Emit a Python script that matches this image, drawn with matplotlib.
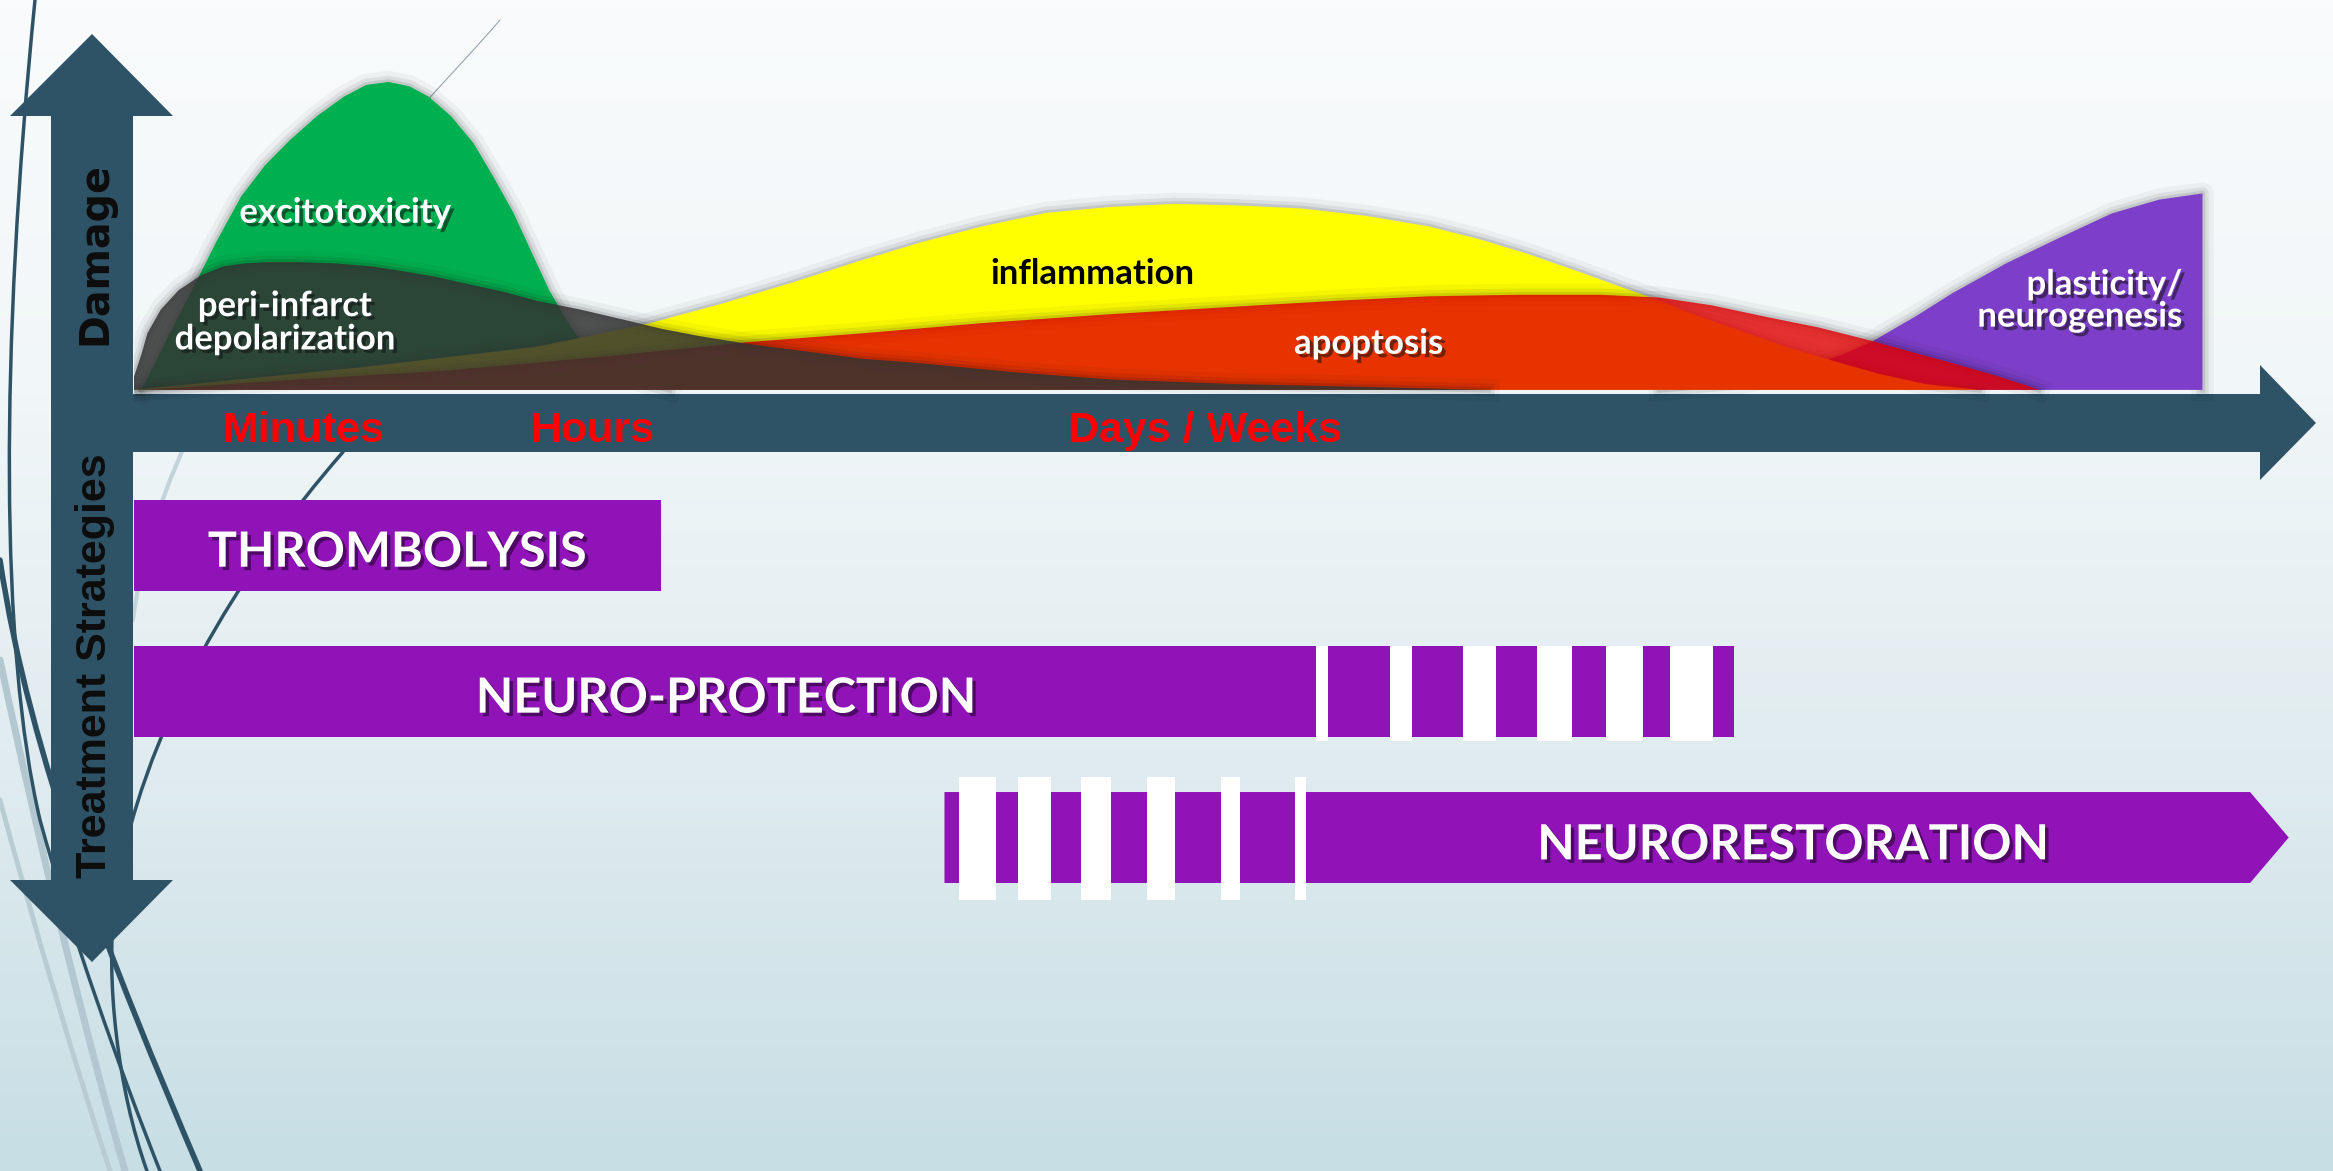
import numpy as np
import matplotlib
matplotlib.use("Agg")
import matplotlib.pyplot as plt
import matplotlib.patheffects as pe
from matplotlib.colors import LinearSegmentedColormap
from matplotlib.path import Path
from matplotlib.patches import PathPatch, Polygon

W, H = 2333, 1171

# time runs 0..100 along the arrow, damage 0..100 (100 = excitotoxicity peak)
exc_t = [0.35, 1.54, 2.73, 3.85, 5.04, 6.16, 7.35, 8.61, 9.87, 10.92, 11.97, 12.96, 13.87,
         14.92, 15.97, 16.88, 17.86, 18.70, 19.54, 20.31, 21.01, 22.06, 23.11, 24.16, 25.21]
exc_d = [0, 16.4, 32.4, 47.8, 62.8, 72.9, 81.2, 88.9, 95.2, 99.0, 100, 98.6, 95.2,
         88.9, 80.2, 69.6, 57.5, 44.9, 32.4, 23.2, 15.9, 9.2, 5.3, 1.9, 0]

peri_t = [0, 0.35, 0.63, 1.26, 2.10, 3.15, 4.20, 5.25, 6.30, 7.70, 9.45, 11.20, 12.61, 14.22,
          15.76, 17.37, 18.91, 21.01, 23.11, 24.86, 26.68, 28.85, 31.51, 34.31, 36.97, 41.32,
          45.94, 51.82, 57.91, 63.73]
peri_d = [4.3, 11.6, 18.4, 26.1, 32.4, 37.2, 40.1, 41.1, 41.5, 41.5, 41.1, 40.1, 38.6, 36.7,
          34.3, 31.9, 29.0, 26.1, 22.7, 19.8, 17.4, 15.0, 12.6, 10.1, 8.7, 5.8,
          3.4, 1.9, 1.0, 0]

infl_t = [0, 4.20, 10.50, 14.71, 18.91, 21.71, 24.30, 27.66, 30.95, 33.96, 36.97, 39.92, 42.93,
          45.94, 48.95, 51.96, 54.97, 57.98, 60.92, 63.38, 65.48, 68.07, 70.03, 71.78, 73.53,
          75.56, 77.73, 79.83, 82.07, 84.31, 86.83]
infl_d = [0, 2.9, 7.2, 10.6, 14.0, 17.9, 21.7, 28.0, 34.8, 41.5, 47.8, 53.1, 57.5,
          59.4, 60.4, 59.9, 58.9, 56.5, 53.1, 48.8, 44.4, 38.2, 33.3, 29.0, 24.2,
          19.3, 14.0, 9.7, 5.3, 1.9, 0]

apop_t = [0.35, 7.70, 14.71, 21.71, 26.68, 28.85, 34.31, 39.92, 45.94, 51.96, 56.72, 60.92,
          65.13, 68.98, 71.78, 74.23, 76.82, 79.27, 81.79, 84.03, 85.57, 87.54, 89.08, 89.64]
apop_d = [0, 3.4, 6.3, 10.6, 14.0, 15.5, 18.4, 21.7, 24.6, 27.1, 29.0, 30.4,
          30.9, 30.9, 30.0, 27.5, 23.7, 20.3, 15.9, 11.6, 8.7, 4.8, 1.4, 0]

plas_t = [71.78, 75.56, 78.29, 80.32, 81.79, 83.82, 85.57, 88.10, 90.55, 93.07, 95.31, 97.34, 97.34]
plas_d = [0, 2.1, 6.4, 11.3, 15.7, 23.8, 31.4, 41.1, 49.2, 57.3, 61.8, 63.8, 0]

time_labels = ["Minutes", "Hours", "Days / Weeks"]
time_pos = [7.98, 21.57, 50.42]

# treatment bars (time units)
thromb_span = (0, 24.79)
neuroprot_span = (0, 75.28)
neuroprot_gaps = [(55.60, 56.20), (59.10, 60.15), (62.54, 64.08), (66.04, 67.65),
                  (69.26, 71.01), (72.27, 74.30)]
neurorest_span = (38.14, 99.58)
neurorest_tip = 101.40
neurorest_gaps = [(38.84, 40.55), (41.60, 43.14), (44.57, 45.98), (47.69, 48.99),
                  (51.16, 52.03), (54.62, 55.16)]

ARROW = "#2e5266"
PURPLE = "#9013b8"

fig = plt.figure(figsize=(W / 100, H / 100), dpi=100)

# ---- background, swooshes and the two axis arrows (pixel space)
bg = fig.add_axes([0, 0, 1, 1])
bg.set_xlim(0, W)
bg.set_ylim(H, 0)
bg.axis("off")
grad = LinearSegmentedColormap.from_list("bg", ["#f9fbfc", "#f1f6f8", "#dfebef", "#c7dee5"])
bg.imshow(np.linspace(0, 1, 300).reshape(-1, 1), cmap=grad, aspect="auto",
          extent=(0, W, H, 0), zorder=0)


def swoosh(pts, color, lw, alpha=1.0):
    codes = [Path.MOVETO] + [Path.CURVE4] * (len(pts) - 1)
    bg.add_patch(PathPatch(Path(pts, codes), fill=False, edgecolor=color, lw=lw,
                           alpha=alpha, capstyle="round", zorder=1))


swoosh([(0, 660), (40, 850), (90, 1050), (125, 1171)], "#b3c7d0", 5)
swoosh([(0, 800), (35, 930), (80, 1080), (110, 1171)], "#b9ccd4", 3.5)
swoosh([(200, 415), (165, 480), (140, 560), (133, 620)], "#c3d3da", 3)
swoosh([(35, 0), (0, 350), (0, 650), (40, 820), (70, 930), (120, 1070), (160, 1171)], ARROW, 2.5)
swoosh([(343, 452), (240, 570), (140, 730), (115, 900), (105, 980), (118, 1090), (147, 1171)], ARROW, 2.5)
swoosh([(0, 560), (30, 760), (110, 960), (200, 1171)], ARROW, 4)
swoosh([(500, 20), (470, 55), (440, 85), (410, 120)], "#7f8f99", 0.8, 0.8)

bg.add_patch(Polygon([(92, 34), (173, 116), (133, 116), (133, 880), (173, 880), (92, 962),
                      (10, 880), (51, 880), (51, 116), (10, 116)],
                     closed=True, color=ARROW, lw=0, zorder=2))
bg.add_patch(Polygon([(133, 394), (2260, 394), (2260, 365), (2316, 423), (2260, 480),
                      (2260, 452), (133, 452)], closed=True, color=ARROW, lw=0, zorder=2))

bg.text(95, 254, "Damage", rotation=90, ha="center", va="center", fontsize=28.5,
        fontweight="bold", color="#0d0d0d", family="DejaVu Sans", zorder=3)
bg.text(95, 666, "Treatment Strategies", rotation=90, ha="center", va="center", fontsize=31,
        fontweight="bold", color="#0d0d0d", family="Liberation Sans", zorder=3)

# ---- damage curves
ax = fig.add_axes([134 / W, 1 - 470 / H, 2125 / W, 470 / H])
ax.set_xlim(0, 100)
ax.set_ylim(-26.0, 126.6)
ax.axis("off")


def area(t, d, color, alpha, z):
    xs = [t[0]] + list(t) + [t[-1]]
    ys = [0] + list(d) + [0]
    for lw, a in [(16, 0.04), (9, 0.07), (4, 0.10)]:
        ax.plot(t, d, color="k", lw=lw, alpha=a, zorder=z - 0.2, solid_joinstyle="round")
    ax.fill(xs, ys, color=color, alpha=alpha, lw=0, zorder=z)


area(plas_t, plas_d, "#7d3fc9", 1.0, 1)
area(exc_t, exc_d, "#00b050", 1.0, 2)
area(infl_t, infl_d, "#ffff00", 1.0, 3)
area(apop_t, apop_d, "#e20000", 0.8, 4)
area(peri_t, peri_d, "#333333", 0.85, 5)

shadow = [pe.withSimplePatchShadow(offset=(2.5, -2.5), shadow_rgbFace="#111111", alpha=0.55)]
lab = dict(ha="center", va="center", fontsize=25, fontweight="bold", family="Lato",
           zorder=10)
ax.text(9.94, 57.5, "excitotoxicity", color="white", path_effects=shadow, **lab)
ax.text(7.1, 21.8, "peri-infarct\ndepolarization", color="white", linespacing=1.05,
        path_effects=shadow, **lab)
ax.text(45.1, 37.7, "inflammation", color="black", **lab)
ax.text(58.1, 15.0, "apoptosis", color="white", path_effects=shadow, **lab)
ax.text(96.4, 29.0, "plasticity/\nneurogenesis", color="white", linespacing=1.0,
        multialignment="right", path_effects=shadow,
        **{**lab, "ha": "right"})

for name, pos in zip(time_labels, time_pos):
    ax.text(pos, -16.9, name, ha="center", va="baseline", fontsize=31, fontweight="bold",
            color="#ff0000", family="Liberation Sans", zorder=10, clip_on=False)

# ---- treatment strategies
axb = fig.add_axes([134 / W, 0, 2125 / W, 701 / H])
axb.set_xlim(0, 100)
axb.set_ylim(4.284, -0.517)
axb.axis("off")
bar_h = 0.623

axb.barh(0, thromb_span[1] - thromb_span[0], left=thromb_span[0], height=bar_h,
         color=PURPLE, lw=0)
axb.barh(1, neuroprot_span[1] - neuroprot_span[0], left=neuroprot_span[0], height=bar_h,
         color=PURPLE, lw=0)
for a, b in neuroprot_gaps:
    axb.barh(1.015, b - a, left=a, height=bar_h + 0.03, color="white", lw=0)

r = 2
y0, y1 = r - bar_h / 2, r + bar_h / 2
axb.add_patch(Polygon([(neurorest_span[0], y0), (neurorest_span[1], y0), (neurorest_tip, r),
                       (neurorest_span[1], y1), (neurorest_span[0], y1)],
                      closed=True, color=PURPLE, lw=0, clip_on=False))
for a, b in neurorest_gaps:
    axb.barh(r + 0.007, b - a, left=a, height=bar_h + 0.22, color="white", lw=0)

bar_shadow = [pe.withSimplePatchShadow(offset=(2.5, -2.5), shadow_rgbFace="#3d0750", alpha=0.8)]
blab = dict(ha="center", va="baseline", fontsize=35, fontweight="bold", family="Lato",
            color="white", path_effects=bar_shadow, zorder=10, clip_on=False)
axb.text(12.39, 0.145, "THROMBOLYSIS", **blab)
axb.text(27.87, 1.145, "NEURO-PROTECTION", **blab)
axb.text(78.08, 2.15, "NEURORESTORATION", **blab)

fig.savefig("out.png", dpi=100)
